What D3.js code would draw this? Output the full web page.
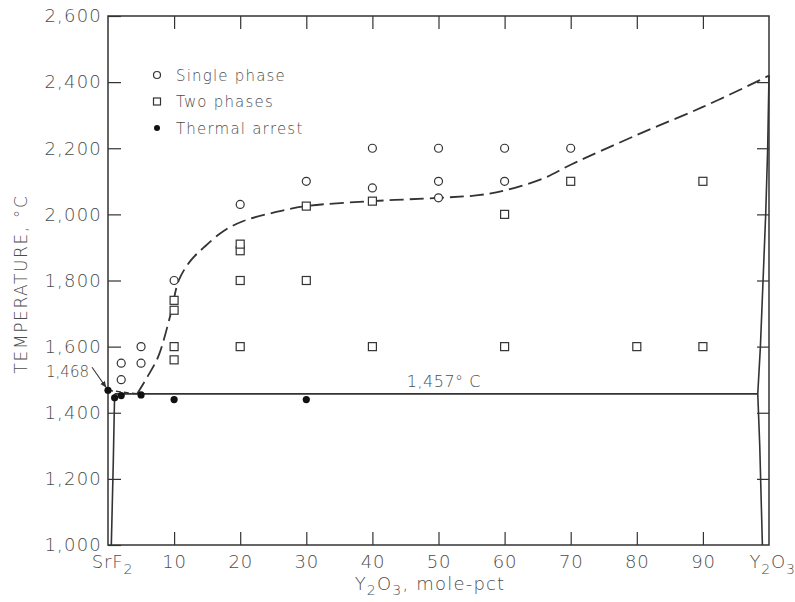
<!DOCTYPE html>
<html>
<head>
<meta charset="utf-8">
<script src="https://cdn.jsdelivr.net/npm/d3@7"></script>
<style>
  body { margin: 0; background: #fff; }
  text { font-family: "DejaVu Sans", sans-serif; font-weight: 200; fill: #4d4d4d; }
</style>
</head>
<body>
<div id="chart"></div>
<script>
/* DATA (mole-pct Y2O3, temperature °C) */
const xTicks = [0, 10, 20, 30, 40, 50, 60, 70, 80, 90, 100];
const yTicks = [1000, 1200, 1400, 1600, 1800, 2000, 2200, 2400, 2600];

const singlePhase = [[2,1500],[2,1550],[5,1550],[5,1600],[10,1800],[20,2030],
  [30,2100],[40,2080],[40,2200],[50,2050],[50,2100],[50,2200],[60,2100],[60,2200],[70,2200]];
const twoPhases = [[10,1560],[10,1600],[10,1710],[10,1740],[20,1600],[20,1800],[20,1890],[20,1910],
  [30,1800],[30,2025],[40,1600],[40,2040],[60,1600],[60,2000],[70,2100],[80,1600],[90,1600],[90,2100]];
const thermalArrest = [[0,1468],[1,1445],[2,1452],[5,1454],[10,1440],[30,1440]];

// phase boundaries
const liquidus = [[4.4,1457],[6,1510],[7.6,1570],[9.5,1700],[10.7,1800],[12.5,1860],[14.5,1900],
  [17.5,1950],[20.5,1980],[25,2005],[30,2025],[40,2040],[50,2050],[56,2058],[60,2072],[66,2110],
  [70,2150],[80,2240],[90,2325],[98,2400],[100,2420]];
const srLiquidus = [[0,1468],[4.4,1457]];
const leftSolvus = [[1,1457],[0.8,1250],[0.5,1000]];
const rightSolvus = [[100,2420],[99.8,2200],[99.5,2000],[99.1,1800],[98.7,1600],[98.3,1457],[98.6,1300],[99.0,1000]];
const eutectic = [[1,1457],[98.3,1457]];

/* CONSTANTS */
const width = 795, height = 602;
const lineColor = "#333";

const svg = d3.select("#chart").append("svg")
  .attr("width", width).attr("height", height);

const xScale = d3.scaleLinear().domain([0, 100]).range([108, 769]);
const yScale = d3.scaleLinear().domain([1000, 2600]).range([545, 16]);

const line = d3.line().x(d => xScale(d[0])).y(d => yScale(d[1]));

/* FRAME */
svg.append("rect")
  .attr("x", xScale(0)).attr("y", yScale(2600))
  .attr("width", xScale(100) - xScale(0))
  .attr("height", yScale(1000) - yScale(2600))
  .attr("fill", "none").attr("stroke", lineColor).attr("stroke-width", 1.5);

/* AXES */
const yAxis = svg.append("g")
  .attr("transform", `translate(${xScale(0)},0)`)
  .call(d3.axisLeft(yScale).tickValues(yTicks).tickSize(-13).tickPadding(6).tickFormat(d3.format(",")));
yAxis.select(".domain").remove();
yAxis.selectAll("line").attr("stroke", lineColor).attr("stroke-width", 1.2);
yAxis.selectAll("text").attr("font-size", 18).attr("letter-spacing", 1.2)
  .attr("fill", null).attr("font-family", null);

const yRight = svg.append("g")
  .attr("transform", `translate(${xScale(100)},0)`)
  .call(d3.axisRight(yScale).tickValues(yTicks.slice(1, -1)).tickSize(-12).tickFormat(""));
yRight.select(".domain").remove();
yRight.selectAll("line").attr("stroke", lineColor).attr("stroke-width", 1.2);

const xTop = svg.append("g")
  .attr("transform", `translate(0,${yScale(2600)})`)
  .call(d3.axisTop(xScale).tickValues(xTicks.slice(1, -1)).tickSize(-13).tickFormat(""));
xTop.select(".domain").remove();
xTop.selectAll("line").attr("stroke", lineColor).attr("stroke-width", 1.2);

const xAxis = svg.append("g")
  .attr("transform", `translate(0,${yScale(1000)})`)
  .call(d3.axisBottom(xScale).tickValues(xTicks).tickSize(-13).tickPadding(10).tickFormat(d => d));
xAxis.select(".domain").remove();
xAxis.selectAll("line").attr("stroke", lineColor).attr("stroke-width", 1.2)
  .filter(d => d === 0 || d === 100).remove();
xAxis.selectAll("text")
  .attr("font-size", 18).attr("letter-spacing", 0.8)
  .attr("fill", null).attr("font-family", null)
  .each(function(d) {
    const t = d3.select(this);
    if (d === 0) {
      t.text("").attr("dx", 4);
      t.append("tspan").text("SrF");
      t.append("tspan").attr("dy", 6).attr("font-size", 14).text("2");
    } else if (d === 100) {
      t.text("").attr("dx", 3);
      t.append("tspan").text("Y");
      t.append("tspan").attr("dy", 6).attr("font-size", 14).text("2");
      t.append("tspan").attr("dy", -6).text("O");
      t.append("tspan").attr("dy", 6).attr("font-size", 14).text("3");
    }
  });

/* AXIS TITLES */
const xTitle = svg.append("text")
  .attr("x", 430).attr("y", 590)
  .attr("text-anchor", "middle").attr("font-size", 18).attr("letter-spacing", 1.2);
xTitle.append("tspan").text("Y");
xTitle.append("tspan").attr("dy", 5).attr("font-size", 14).text("2");
xTitle.append("tspan").attr("dy", -5).text("O");
xTitle.append("tspan").attr("dy", 5).attr("font-size", 14).text("3");
xTitle.append("tspan").attr("dy", -5).text(",  mole-pct");

svg.append("text")
  .attr("transform", `translate(27,284) rotate(-90)`)
  .attr("text-anchor", "middle").attr("font-size", 17).attr("letter-spacing", 1.6)
  .text("TEMPERATURE,  °C");

/* PHASE BOUNDARIES */
svg.append("path").datum(liquidus)
  .attr("d", line.curve(d3.curveCatmullRom))
  .attr("fill", "none").attr("stroke", lineColor).attr("stroke-width", 1.8)
  .attr("stroke-dasharray", "14,6");

const straight = d3.line().x(d => xScale(d[0])).y(d => yScale(d[1]));

svg.append("path").datum(srLiquidus)
  .attr("d", straight)
  .attr("fill", "none").attr("stroke", lineColor).attr("stroke-width", 1.5)
  .attr("stroke-dasharray", "5,3");

[leftSolvus, rightSolvus, eutectic].forEach(seg => {
  svg.append("path").datum(seg)
    .attr("d", straight)
    .attr("fill", "none").attr("stroke", lineColor).attr("stroke-width", 1.6);
});

svg.append("text")
  .attr("x", xScale(45.2)).attr("y", yScale(1457) - 7)
  .attr("font-size", 16).attr("letter-spacing", 0.5)
  .text("1,457° C");

/* 1,468 label with arrow */
svg.append("defs").append("marker")
  .attr("id", "arrow").attr("viewBox", "0 0 10 10")
  .attr("refX", 9).attr("refY", 5)
  .attr("markerWidth", 6).attr("markerHeight", 6)
  .attr("orient", "auto")
  .append("path").attr("d", "M0,1 L10,5 L0,9 z").attr("fill", lineColor);

svg.append("line")
  .attr("x1", xScale(0) - 16).attr("y1", yScale(1468) - 23)
  .attr("x2", xScale(0) - 2).attr("y2", yScale(1468) - 3)
  .attr("stroke", lineColor).attr("stroke-width", 1.1)
  .attr("marker-end", "url(#arrow)");

svg.append("text")
  .attr("x", xScale(0) - 19).attr("y", yScale(1468) - 13)
  .attr("text-anchor", "end").attr("font-size", 15)
  .text("1,468");

/* POINTS */
svg.selectAll("circle.single")
  .data(singlePhase)
  .join("circle")
  .attr("class", "single")
  .attr("cx", d => xScale(d[0])).attr("cy", d => yScale(d[1]))
  .attr("r", 4)
  .attr("fill", "#fff").attr("stroke", lineColor).attr("stroke-width", 1.2);

svg.selectAll("rect.two")
  .data(twoPhases)
  .join("rect")
  .attr("class", "two")
  .attr("x", d => xScale(d[0]) - 4).attr("y", d => yScale(d[1]) - 4)
  .attr("width", 8).attr("height", 8)
  .attr("fill", "#fff").attr("stroke", lineColor).attr("stroke-width", 1.2);

svg.selectAll("circle.arrest")
  .data(thermalArrest)
  .join("circle")
  .attr("class", "arrest")
  .attr("cx", d => xScale(d[0])).attr("cy", d => yScale(d[1]))
  .attr("r", 3.6)
  .attr("fill", "#111");

/* LEGEND */
const legend = svg.append("g").attr("transform", "translate(157,75)");
const legendItems = ["Single phase", "Two phases", "Thermal arrest"];
legendItems.forEach((label, i) => {
  const g = legend.append("g").attr("transform", `translate(0,${i * 26.5})`);
  if (i === 0) {
    g.append("circle").attr("r", 3.5).attr("fill", "#fff").attr("stroke", lineColor).attr("stroke-width", 1.2);
  } else if (i === 1) {
    g.append("rect").attr("x", -3.5).attr("y", -3.5).attr("width", 7).attr("height", 7)
      .attr("fill", "#fff").attr("stroke", lineColor).attr("stroke-width", 1.2);
  } else {
    g.append("circle").attr("r", 3).attr("fill", "#111");
  }
  g.append("text").attr("x", 19).attr("y", 5.5)
    .attr("font-size", 15).attr("letter-spacing", 1.2)
    .text(label);
});
</script>
</body>
</html>
